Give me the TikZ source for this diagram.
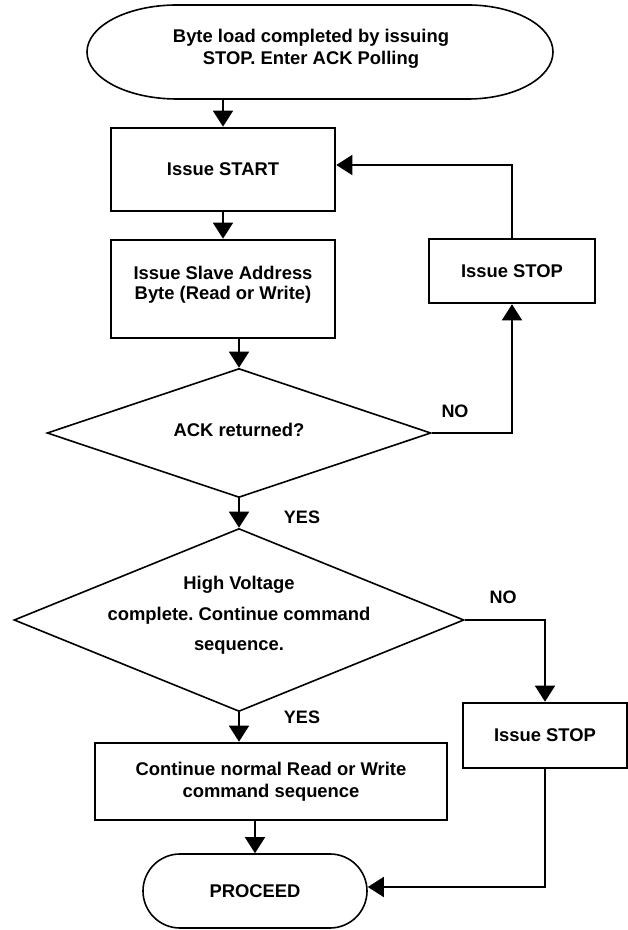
\documentclass[tikz,border=0pt]{standalone}
\usepackage{fontspec}
\setmainfont{Liberation Sans}
\usetikzlibrary{arrows.meta,shapes.geometric,shapes.misc}
\begin{document}
\begin{tikzpicture}[x=1pt,y=1pt,
  every node/.style={font=\frenchspacing\bfseries\fontsize{18.4}{22}\selectfont, align=center, inner sep=0pt},
  procbox/.style={draw, rectangle, line width=2.6pt},
  decision/.style={draw, diamond, line width=1.6pt, inner sep=0pt},
  terminal/.style={line width=1.6pt},
  conn/.style={line width=1.6pt, -{Triangle[length=16pt,width=20pt]}},
  lbl/.style={font=\bfseries\fontsize{18}{22}\selectfont}
]
\useasboundingbox (0,0) rectangle (628,930);

% start terminal
\node (top) [minimum width=466pt, minimum height=100pt] at (311,881)
  {Byte load completed by issuing\\STOP. Enter ACK Polling};
\draw[terminal] (177,925) -- (468,925)
  arc[start angle=90, end angle=-90, x radius=85pt, y radius=47pt]
  -- (177,831)
  arc[start angle=270, end angle=90, x radius=90pt, y radius=47pt] -- cycle;

\node (sbox) [procbox, minimum width=224pt, minimum height=83pt] at (223,760.5) {Issue START};
\node (abox) [procbox, minimum width=224pt, minimum height=98pt, text height=21.2pt, text depth=0pt,
  font=\frenchspacing\bfseries\fontsize{18.4}{20.5}\selectfont] at (223,641)
  {Issue Slave Address\\Byte (Read or Write)};
\node (d1) [decision, minimum width=384pt, minimum height=129pt, aspect=2.98,
  text height=7.2pt, text depth=0pt] at (239,497) {ACK returned?};
\node (stop1) [procbox, minimum width=166pt, minimum height=64pt] at (512,659) {Issue STOP};
\node (d2) [decision, minimum width=450pt, minimum height=183pt, aspect=2.46,
  text height=61.2pt, text depth=0pt,
  font=\frenchspacing\bfseries\fontsize{18.4}{30.5}\selectfont] at (239,310)
  {High Voltage\\complete. Continue command\\sequence.};
\node (stop2) [procbox, minimum width=164pt, minimum height=65pt] at (545,194.5) {Issue STOP};
\node (cbox) [procbox, minimum width=352pt, minimum height=77pt] at (271,148.5)
  {Continue normal Read or Write\\command sequence};
\node (proc) [draw, rounded rectangle, line width=1.6pt, minimum width=224pt, minimum height=74pt] at (255,39) {PROCEED};

% labels
\node (no1) [lbl] at (455,519) {NO};
\node (yes1) [lbl] at (302,413) {YES};
\node (no2) [lbl] at (503,333) {NO};
\node (yes2) [lbl] at (302,213) {YES};

% connectors
\draw[conn] (sbox.north |- top.south) -- (sbox.north);
\draw[conn] (sbox.south) -- (abox.north);
\draw[conn] (abox.south -| d1.north) -- (d1.north);
\draw[conn] (d1.east) -| (stop1.south);
\draw[conn] (stop1.north) |- ([yshift=4.5pt]sbox.east);
\draw[conn] (d1.south) -- (d2.north);
\draw[conn] (d2.east) -| (stop2.north);
\draw[conn] (d2.south) -- (d2.south |- cbox.north);
\draw[conn] (cbox.south -| proc.north) -- (proc.north);
\draw[conn] (stop2.south) |- ([yshift=4pt]proc.east);
\end{tikzpicture}
\end{document}
